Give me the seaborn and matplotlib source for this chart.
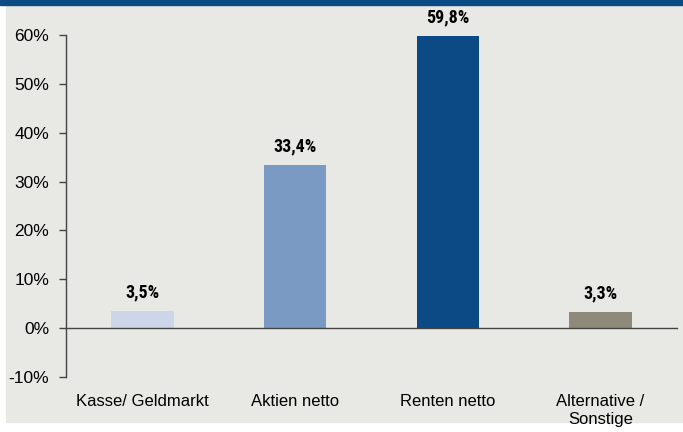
import matplotlib
matplotlib.use("Agg")
import matplotlib.pyplot as plt
import matplotlib.ticker as mticker
import seaborn as sns
import pandas as pd

# data
categories = ["Kasse/ Geldmarkt", "Aktien netto", "Renten netto", "Alternative /\nSonstige"]
shares = [3.5, 33.4, 59.8, 3.3]
value_labels = ["3,5%", "33,4%", "59,8%", "3,3%"]
colors = ["#CDD6E9", "#7A9AC4", "#0B4A85", "#8D8A7A"]

sns.set_style("white")
plt.rcParams["font.family"] = ["Liberation Sans", "DejaVu Sans"]
plt.rcParams["text.color"] = "black"

bg = "#E8E8E4"
fig = plt.figure(figsize=(6.83, 4.32), dpi=100)
fig.patch.set_facecolor("white")
# grey panel and blue header strip
fig.patches.append(plt.Rectangle((6 / 683, 10 / 432), 1 - 6 / 683, 1 - 15 / 432,
                                 transform=fig.transFigure, color=bg, zorder=-2))
fig.patches.append(plt.Rectangle((0, 1 - 5 / 432), 1, 5 / 432,
                                 transform=fig.transFigure, color="#0B4A85", zorder=-1))

ax = fig.add_axes([66 / 683, 55 / 432, 611 / 683, 342 / 432])
ax.set_facecolor(bg)

df = pd.DataFrame({"cat": categories, "share": shares})
sns.barplot(data=df, x="cat", y="share", hue="cat", palette=colors,
            width=0.41, legend=False, ax=ax, saturation=1, linewidth=0)

ax.set_xlim(-0.5, 3.5)
ax.set_ylim(-10, 60)
ax.yaxis.set_major_locator(mticker.MultipleLocator(10))
ax.yaxis.set_major_formatter(mticker.FuncFormatter(lambda v, p: f"{v:.0f}%"))

for s in ["top", "right"]:
    ax.spines[s].set_visible(False)
ax.spines["bottom"].set_position(("data", 0))
for s in ["left", "bottom"]:
    ax.spines[s].set_color("#444444")
    ax.spines[s].set_linewidth(1.0)

ax.set_xticks([0.5, 1.5, 2.5, 3.5])
ax.set_xticklabels([])
ax.tick_params(axis="x", direction="out", length=5, color="#444444", width=1)
ax.tick_params(axis="y", direction="out", length=5, color="#444444", width=1,
               labelsize=12.5, pad=7, left=True, labelcolor="black")
ax.set_xlabel("")
ax.set_ylabel("")

for i, (cat, v, lab) in enumerate(zip(categories, shares, value_labels)):
    ax.text(i, v + 2.0, lab, ha="center", va="bottom", fontsize=13,
            fontweight="bold", color="black",
            family=["Roboto Condensed", "Liberation Sans"])
    ax.annotate(cat, xy=(i, -10), xytext=(0, -12), textcoords="offset points",
                ha="center", va="top", fontsize=12, linespacing=1.3, color="black")

fig.savefig("out.png", dpi=100, facecolor=fig.get_facecolor())
